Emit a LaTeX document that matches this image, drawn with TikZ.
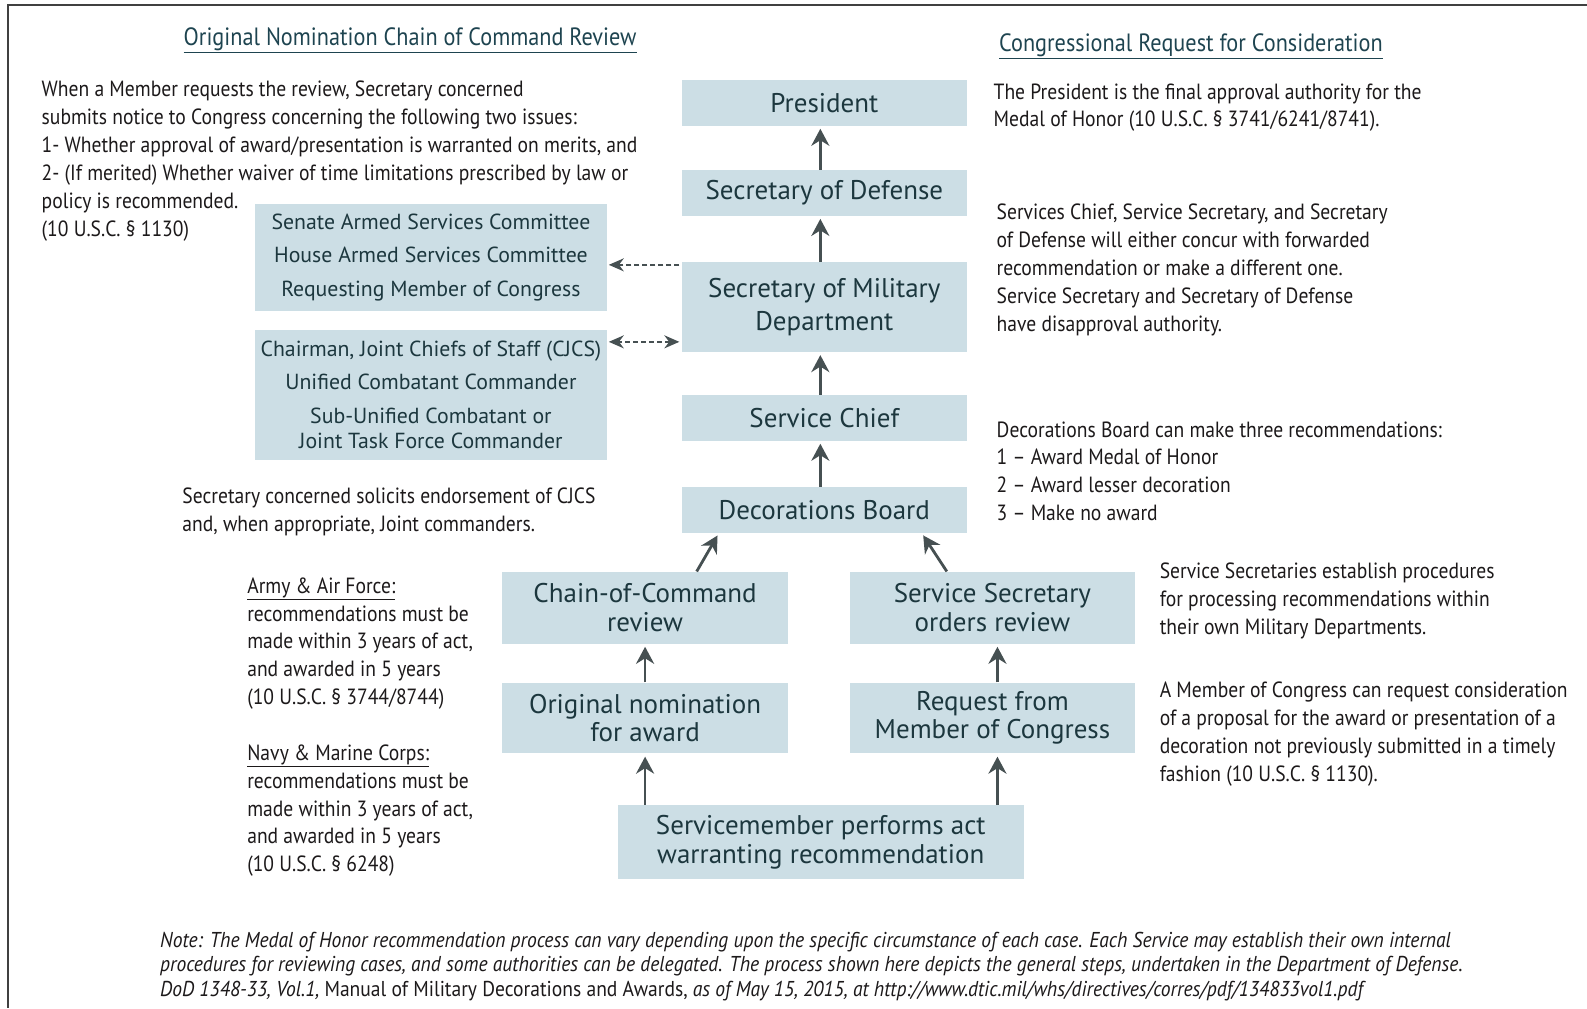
\documentclass[tikz,border=0pt]{standalone}
\usepackage{fontspec}
\setmainfont{PT Sans}
\newfontfamily\condfont[FakeStretch=0.89]{PT Sans}
\newfontfamily\notefont[FakeStretch=0.91]{PT Sans}
\usetikzlibrary{arrows.meta}
\definecolor{boxfill}{RGB}{204,222,229}
\definecolor{arrowgray}{RGB}{70,80,82}
\definecolor{bodytext}{RGB}{28,25,26}
\definecolor{headtext}{RGB}{30,68,80}
\definecolor{boxtext}{RGB}{28,55,62}
\tikzset{>={Stealth[length=17pt,width=18pt]}}

\begin{document}
\begin{tikzpicture}[x=1.0127pt,y=-1.0127pt,
    box/.style={fill=boxfill, text=boxtext, inner sep=0pt, align=center,
      font=\fontsize{27}{28.4}\selectfont},
    para/.style={anchor=north west, inner sep=0pt, align=left, text=bodytext,
      font=\condfont\fontsize{22}{27.9}\selectfont},
    head/.style={anchor=base, inner sep=0pt, text=headtext,
      font=\condfont\fontsize{25}{28}\selectfont},
    flow/.style={->, arrowgray, line width=2.8pt, shorten >=3pt},
    link/.style={arrowgray, line width=1.8pt, dash pattern=on 5pt off 3pt,
      >={Stealth[length=15pt,width=13pt]}, shorten >=2pt, shorten <=2pt}]
    \useasboundingbox (0,0) rectangle (1567.1,995.4);
    \draw[line width=2pt, black!75] (1567.1,5) -- (8,5) -- (8,995.4);

    % headings
    \node[head] (lefthead) at (405,45) {\underline{Original Nomination Chain of Command Review}};
    \node[head] (righthead) at (1176,51) {\underline{Congressional Request for Consideration}};

    % main chain
    \node[box, minimum width=285.6pt, minimum height=45.6pt] (pres) at (814,101.5) {President};
    \node[box, minimum width=285.6pt, minimum height=45.6pt] (secdef) at (814,190.5) {Secretary of Defense};
    \node[box, minimum width=285.6pt, minimum height=90.1pt,
      font=\fontsize{27}{33.4}\selectfont] (secmil) at (814,303) {Secretary of Military\\Department};
    \node[box, minimum width=285.6pt, minimum height=45.6pt] (chief) at (814,412.5) {Service Chief};
    \node[box, minimum width=285.6pt, minimum height=45.6pt] (board) at (814,503.5) {Decorations Board};
    \node[box, minimum width=285.6pt, minimum height=71.9pt] (chain) at (637,600) {Chain-of-Command\\review};
    \node[box, minimum width=285.6pt, minimum height=71.9pt] (svcsec) at (980,600) {Service Secretary\\orders review};
    \node[box, minimum width=285.6pt, minimum height=70.9pt] (orig) at (637,709) {Original nomination\\for award};
    \node[box, minimum width=285.6pt, minimum height=70.9pt] (request) at (980,709) {Request from\\Member of Congress};
    \node[box, minimum width=406.1pt, minimum height=73.9pt] (member) at (810.5,831.5) {Servicemember performs act\\warranting recommendation};

    % side boxes
    \node[box, minimum width=351.4pt, minimum height=107.3pt,
      font=\fontsize{21.8}{33.4}\selectfont] (senate) at (425.5,254)
      {Senate Armed Services Committee\\House Armed Services Committee\\Requesting Member of Congress};
    \node[box, minimum width=351.4pt, minimum height=130.6pt,
      font=\fontsize{21.8}{25.3}\selectfont] (cjcs) at (425.5,390)
      {Chairman, Joint Chiefs of Staff (CJCS)\\[8pt]Unified Combatant Commander\\[8pt]Sub-Unified Combatant or\\Joint Task Force Commander};

    % arrows
    \draw[flow] ([xshift=-4pt]secdef.north) -- ([xshift=-4pt]pres.south);
    \draw[flow] ([xshift=-4pt]secmil.north) -- ([xshift=-4pt]secdef.south);
    \draw[flow] ([xshift=-4pt]chief.north) -- ([xshift=-4pt]secmil.south);
    \draw[flow] ([xshift=-4pt]board.north) -- ([xshift=-4pt]chief.south);
    \draw[flow] ([xshift=51.6pt]chain.north) -- ([xshift=-105.3pt]board.south);
    \draw[flow] ([xshift=-45.6pt]svcsec.north) -- ([xshift=97.2pt]board.south);
    \draw[flow] (orig) -- (chain);
    \draw[flow] ([xshift=5pt]request.north) -- ([xshift=5pt]svcsec.south);
    \draw[flow] (orig |- member.north) -- (orig);
    \draw[flow] ([xshift=5pt]request |- member.north) -- ([xshift=5pt]request.south);
    \draw[link, ->] ([yshift=42pt]secmil.west) -- ([yshift=42pt]secmil.west -| senate.east);
    \draw[link, <->] ([yshift=-35pt]secmil.west) -- ([yshift=-35pt]secmil.west -| cjcs.east);

    % notes left
    \node[para] (reviewnote) at (41,80) {When a Member requests the review, Secretary concerned\\
      submits notice to Congress concerning the following two issues:\\
      1- Whether approval of award/presentation is warranted on merits, and\\
      2- (If merited) Whether waiver of time limitations prescribed by law or\\
      policy is recommended.\\
      (10 U.S.C. § 1130)};
    \node[para] (cjcsnote) at (180,482) {Secretary concerned solicits endorsement of CJCS\\
      and, when appropriate, Joint commanders.};
    \node[para] (armynote) at (244,570) {\underline{Army \& Air Force:}\\
      recommendations must be\\
      made within 3 years of act,\\
      and awarded in 5 years\\
      (10 U.S.C. § 3744/8744)};
    \node[para] (navynote) at (244,735) {\underline{Navy \& Marine Corps:}\\
      recommendations must be\\
      made within 3 years of act,\\
      and awarded in 5 years\\
      (10 U.S.C. § 6248)};

    % notes right
    \node[para, font=\condfont\fontsize{22}{26.3}\selectfont] (presnote) at (981,83)
      {The President is the final approval authority for the\\
      Medal of Honor (10 U.S.C. § 3741/6241/8741).};
    \node[para] (chiefnote) at (984,201) {Services Chief, Service Secretary, and Secretary\\
      of Defense will either concur with forwarded\\
      recommendation or make a different one.\\
      Service Secretary and Secretary of Defense\\
      have disapproval authority.};
    \node[para] (boardnote) at (984,416) {Decorations Board can make three recommendations:\\
      1 – Award Medal of Honor\\
      2 – Award lesser decoration\\
      3 – Make no award};
    \node[para] (svcnote) at (1145,556) {Service Secretaries establish procedures\\
      for processing recommendations within\\
      their own Military Departments.};
    \node[para] (congnote) at (1145,673) {A Member of Congress can request consideration\\
      of a proposal for the award or presentation of a\\
      decoration not previously submitted in a timely\\
      fashion (10 U.S.C. § 1130).};

    % footnote
    \node[para, font=\notefont\itshape\fontsize{21.5}{24.8}\selectfont] (footnote) at (158,920)
      {Note: The Medal of Honor recommendation process can vary depending upon the specific circumstance of each case. Each Service may establish their own internal\\
      procedures for reviewing cases, and some authorities can be delegated. The process shown here depicts the general steps, undertaken in the Department of Defense.\\
      DoD 1348-33, Vol.1, {\upshape Manual of Military Decorations and Awards,} as of May 15, 2015, at http://www.dtic.mil/whs/directives/corres/pdf/134833vol1.pdf};
\end{tikzpicture}
\end{document}
